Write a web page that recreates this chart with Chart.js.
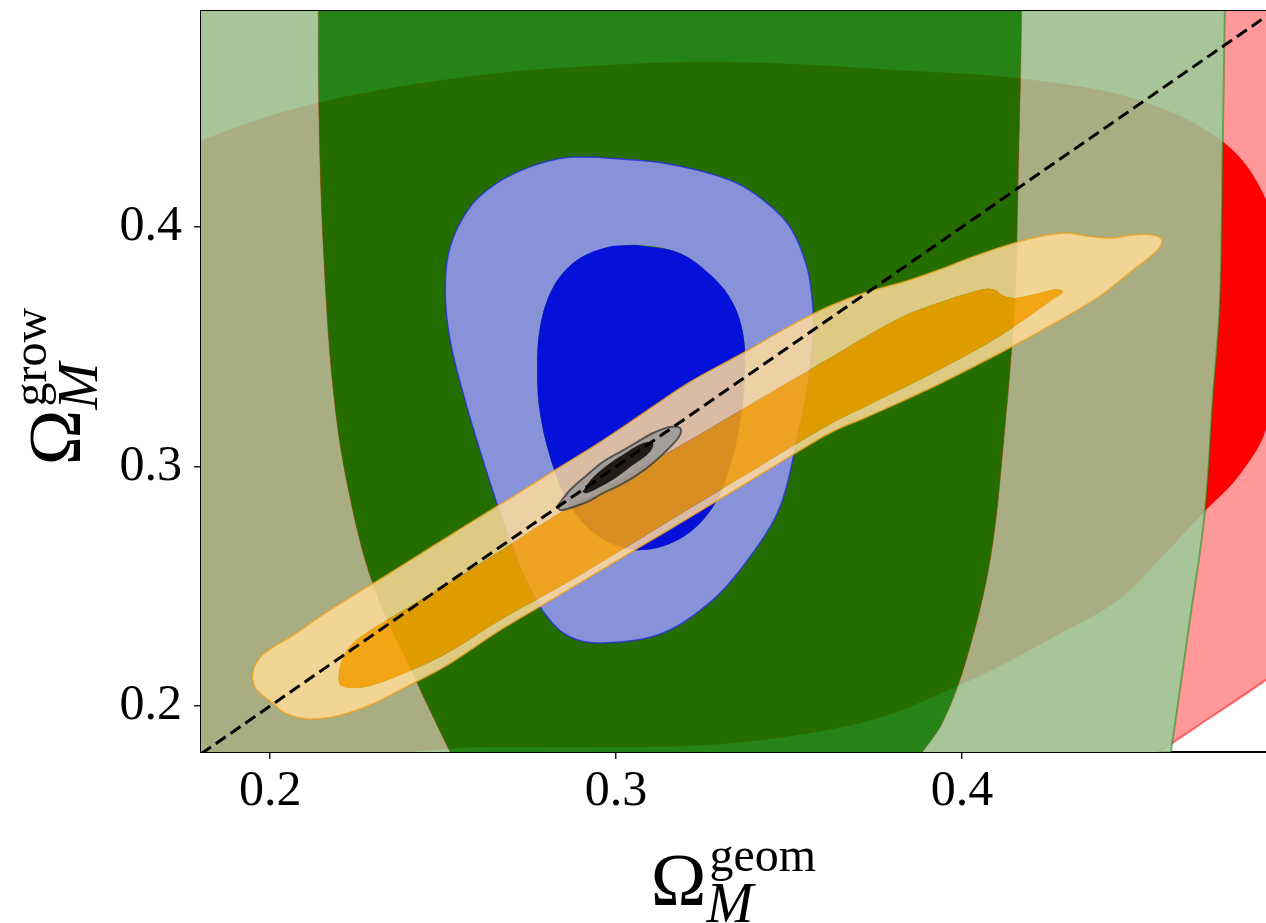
<!DOCTYPE html>
<html>
<head>
<meta charset="utf-8">
<title>Omega_M geom vs grow</title>
<script src="https://cdn.jsdelivr.net/npm/chart.js@4.4.1/dist/chart.umd.min.js"></script>
<style>
  html, body { margin: 0; padding: 0; background: #fff; }
  #wrap { position: relative; width: 1266px; height: 923px; }
</style>
</head>
<body>
<div id="wrap"><canvas id="contours"></canvas></div>
<script>
// --- axis ranges and ticks ---
const xRange = [0.18, 0.4879];
const yRange = [0.1808, 0.4902];
const xTicks = [0.2, 0.3, 0.4];
const yTicks = [0.2, 0.3, 0.4];
const identityLine = [0.18, 0.49];

// --- contour outlines, [Ω_geom, Ω_grow] ---
// red: wide region only shows its edge in the lower right corner
const redWideEdge = [[0.440, 0.166], [0.4564, 0.1804], [0.472, 0.1954], [0.4879, 0.2109], [0.500, 0.2235]];
const redWideRest = [[0.56, 0.30], [0.56, 0.56], [0.10, 0.56], [0.10, 0.10], [0.40, 0.10]];
const redCore = [
  [0.157, 0.420], [0.180, 0.436], [0.206, 0.449], [0.235, 0.458], [0.264, 0.464], [0.290, 0.467],
  [0.324, 0.469], [0.353, 0.468], [0.376, 0.466], [0.417, 0.462], [0.451, 0.453], [0.476, 0.435],
  [0.488, 0.411], [0.495, 0.370], [0.488, 0.316], [0.480, 0.296], [0.470, 0.281], [0.457, 0.261],
  [0.445, 0.244], [0.428, 0.230], [0.410, 0.216], [0.395, 0.206], [0.376, 0.195], [0.353, 0.188],
  [0.324, 0.1835], [0.290, 0.1828], [0.252, 0.1822], [0.223, 0.177], [0.180, 0.165], [0.151, 0.148],
  [0.133, 0.244], [0.139, 0.357]
];

// green: vertical bands, edges listed top to bottom
const greenCoreLeft = [
  [0.2139, 0.53], [0.2139, 0.490], [0.2140, 0.452], [0.2153, 0.393], [0.2182, 0.332], [0.2225, 0.291],
  [0.2298, 0.2505], [0.2425, 0.2096], [0.2520, 0.1808], [0.2610, 0.155], [0.2655, 0.14]
];
const greenCoreRight = [
  [0.4175, 0.53], [0.4173, 0.490], [0.4162, 0.4167], [0.4153, 0.3695], [0.4121, 0.3111], [0.4081, 0.2605],
  [0.4014, 0.2200], [0.3945, 0.1933], [0.3873, 0.1783], [0.369, 0.14]
];
const greenWideRight = [
  [0.4763, 0.53], [0.4760, 0.490], [0.4754, 0.435], [0.4746, 0.3695], [0.4725, 0.3278], [0.4702, 0.2806],
  [0.4659, 0.2359], [0.4604, 0.1804], [0.4564, 0.14]
];
const greenFarLeft = [[0.10, 0.53], [0.10, 0.14]];

// blue
const blueWide = [
  [0.2934, 0.4292], [0.3136, 0.4267], [0.3329, 0.4196], [0.3425, 0.4113], [0.3503, 0.4000], [0.3552, 0.3833],
  [0.3569, 0.3666], [0.3569, 0.3528], [0.3552, 0.3319], [0.3523, 0.3111], [0.3474, 0.2831], [0.3387, 0.2622],
  [0.3280, 0.2443], [0.3136, 0.2305], [0.2962, 0.2263], [0.2867, 0.2288], [0.2801, 0.2372], [0.2743, 0.2514],
  [0.2685, 0.2722], [0.2627, 0.2973], [0.2569, 0.3248], [0.2520, 0.3528], [0.2506, 0.3737], [0.2520, 0.3916],
  [0.2578, 0.4084], [0.2656, 0.4184], [0.2751, 0.4251], [0.2847, 0.4288]
];
const blueCore = [
  [0.3061, 0.3925], [0.3185, 0.3891], [0.3280, 0.3791], [0.3338, 0.3683], [0.3367, 0.3557], [0.3373, 0.3390],
  [0.3358, 0.3182], [0.3329, 0.2998], [0.3280, 0.2831], [0.3194, 0.2706], [0.3078, 0.2651], [0.2983, 0.2681],
  [0.2916, 0.2747], [0.2858, 0.2860], [0.2809, 0.3040], [0.2780, 0.3223], [0.2772, 0.3390], [0.2780, 0.3582],
  [0.2818, 0.3749], [0.2887, 0.3862], [0.2974, 0.3916]
];

// orange
const orangeWide = [
  [0.1948, 0.2117], [0.1954, 0.2163], [0.1977, 0.2213], [0.2014, 0.2251], [0.2058, 0.2288], [0.2173, 0.2401],
  [0.2318, 0.2530], [0.2462, 0.2660], [0.2592, 0.2777], [0.2723, 0.2894], [0.2838, 0.2998], [0.2954, 0.3102],
  [0.3084, 0.3228], [0.3214, 0.3353], [0.3367, 0.3474], [0.3503, 0.3587], [0.3618, 0.3670], [0.3725, 0.3729],
  [0.3821, 0.3766], [0.3916, 0.3812], [0.4061, 0.3891], [0.4205, 0.3954], [0.4303, 0.3975], [0.4364, 0.3962],
  [0.4428, 0.3954], [0.4494, 0.3967], [0.4552, 0.3967], [0.4578, 0.3946],
  [0.4566, 0.3904], [0.4494, 0.3820], [0.4399, 0.3712], [0.4254, 0.3587], [0.4110, 0.3474], [0.3916, 0.3332],
  [0.3725, 0.3207], [0.3618, 0.3140], [0.3425, 0.2973], [0.3234, 0.2806], [0.3040, 0.2639], [0.2847, 0.2472],
  [0.2665, 0.2317], [0.2512, 0.2171], [0.2376, 0.2067], [0.2289, 0.2004], [0.2194, 0.1958], [0.2107, 0.1946],
  [0.2043, 0.1971], [0.2006, 0.2013], [0.1977, 0.2046], [0.1957, 0.2075]
];
const orangeCore = [
  [0.2197, 0.2117], [0.2205, 0.2184], [0.2231, 0.2251], [0.2289, 0.2317], [0.2376, 0.2392], [0.2512, 0.2509],
  [0.2665, 0.2647], [0.2818, 0.2789], [0.3040, 0.2969], [0.3234, 0.3127], [0.3425, 0.3290], [0.3618, 0.3453],
  [0.3821, 0.3620], [0.3965, 0.3699], [0.4067, 0.3741], [0.4095, 0.3737], [0.4121, 0.3712], [0.4153, 0.3704],
  [0.4211, 0.3720], [0.4277, 0.3741], [0.4292, 0.3729],
  [0.4260, 0.3695], [0.4110, 0.3545], [0.3916, 0.3390], [0.3725, 0.3253], [0.3618, 0.3177], [0.3425, 0.3010],
  [0.3234, 0.2843], [0.3040, 0.2672], [0.2847, 0.2505], [0.2665, 0.2359], [0.2512, 0.2221], [0.2376, 0.2129],
  [0.2289, 0.2084], [0.2231, 0.2075], [0.2202, 0.2088]
];

// black (combined)
const blackWide = [
  [0.2832, 0.2839], [0.2867, 0.2902], [0.2916, 0.2965], [0.2962, 0.3019], [0.3012, 0.3061], [0.3061, 0.3102],
  [0.3107, 0.3140], [0.3156, 0.3165], [0.3185, 0.3161], [0.3185, 0.3132], [0.3156, 0.3081], [0.3107, 0.3015],
  [0.3061, 0.2965], [0.3012, 0.2923], [0.2962, 0.2889], [0.2916, 0.2852], [0.2867, 0.2827], [0.2838, 0.2818]
];
const blackCore = [
  [0.2902, 0.2894], [0.2934, 0.2956], [0.2983, 0.3015], [0.3032, 0.3061], [0.3078, 0.3098], [0.3107, 0.3098],
  [0.3098, 0.3061], [0.3049, 0.3006], [0.3003, 0.2956], [0.2954, 0.2914], [0.2916, 0.2889]
];

const toXY = ([x, y]) => ({x, y});

// Open path walking a ring (and optional hole, reversed) once. Doubled vertices keep
// the joins straight, and the far points on the start row keep the filler's x-clip wide.
function shapePath(outer, hole) {
  const ring = pts => [pts[0], pts[0], ...pts.slice(1), pts[0], pts[0]];
  const a = outer[0];
  let path = ring(outer);
  if (hole) path = path.concat(ring(hole.slice().reverse()), [a, a]);
  return [[5, a[1]], ...path, [-5, a[1]]].map(toXY);
}

function area(outer, hole, color) {
  return {
    data: shapePath(outer, hole), showLine: true, fill: 'shape',
    backgroundColor: color, borderColor: 'transparent', borderWidth: 0,
    pointRadius: 0, tension: 0.35
  };
}

function edge(pts, color, width, closed) {
  return {
    data: (closed ? [...pts, pts[0]] : pts).map(toXY), showLine: true, fill: false,
    borderColor: color, borderWidth: width, pointRadius: 0, tension: 0.35
  };
}

const lightGreen = 'rgba(153,204,153,0.85)';

// paint order, bottom first
const layers = [
  area([...redWideEdge, ...redWideRest], null, '#ff9999'),
  edge(redWideEdge, 'rgba(255,0,0,0.5)', 2),
  area(redCore, null, '#ff0000'),
  area([greenFarLeft[0], ...greenCoreLeft, greenFarLeft[1]], null, lightGreen),
  area([...greenCoreRight, ...greenWideRight.slice().reverse()], null, lightGreen),
  area([...greenCoreLeft, ...greenCoreRight.slice().reverse()], null, 'rgba(0,128,0,0.85)'),
  edge(greenCoreLeft, 'rgba(140,90,30,0.4)', 1),
  edge(greenCoreRight, 'rgba(140,90,30,0.4)', 1),
  edge(greenWideRight, 'rgba(0,128,0,0.45)', 2),
  area(blueWide, blueCore, 'rgba(153,153,255,0.85)'),
  area(blueCore, null, 'rgba(0,0,255,0.85)'),
  edge(blueWide, 'rgba(30,40,220,0.75)', 1.5, true),
  area(orangeWide, orangeCore, 'rgba(255,219,153,0.85)'),
  area(orangeCore, null, 'rgba(255,165,0,0.85)'),
  edge(orangeWide, 'rgba(240,160,20,0.75)', 1.5, true),
  area(blackWide, blackCore, 'rgba(153,153,153,0.85)'),
  area(blackCore, null, 'rgba(0,0,0,0.85)'),
  edge(blackWide, 'rgba(60,60,60,0.8)', 2, true),
  {
    data: identityLine.map(v => ({x: v, y: v})), showLine: true, fill: false,
    borderColor: '#000', borderWidth: 3, borderDash: [12, 6], pointRadius: 0, tension: 0
  }
];
layers.forEach((ds, i) => {
  ds.order = layers.length - i;
  ds.xAxisID = 'x';
  ds.yAxisID = 'y';
});

// Ω with upright superscript and italic M subscript, baseline at y = 0, centred on x = 0
function drawOmega(ctx, sup) {
  const big = '75px "Liberation Serif"';
  const small = '48px "Liberation Serif"';
  const sub = 'italic 56px "Liberation Serif"';
  ctx.font = big;
  const wo = ctx.measureText('Ω').width;
  ctx.font = small;
  const ws = ctx.measureText(sup).width;
  const x0 = -(wo + 3 + ws) / 2;
  ctx.font = big;
  ctx.fillText('Ω', x0, 0);
  ctx.font = small;
  ctx.fillText(sup, x0 + wo + 3, -34);
  ctx.font = sub;
  ctx.fillText('M', x0 + wo, 17);
}

const mathTitles = {
  id: 'mathTitles',
  afterDraw(chart) {
    const {ctx, chartArea: a} = chart;
    ctx.save();
    ctx.fillStyle = '#000';
    ctx.textBaseline = 'alphabetic';
    ctx.translate((a.left + a.right) / 2, a.bottom + 153);
    drawOmega(ctx, 'geom');
    ctx.restore();

    ctx.save();
    ctx.fillStyle = '#000';
    ctx.textBaseline = 'alphabetic';
    ctx.translate(a.left - 121, (a.top + a.bottom) / 2 + 5);
    ctx.rotate(-Math.PI / 2);
    drawOmega(ctx, 'grow');
    ctx.restore();
  }
};

const tickFont = {family: '"Liberation Serif", "Times New Roman", serif', size: 50};
const tickGrid = {drawOnChartArea: false, tickLength: 7, lineWidth: 1.5, color: '#222'};
const spine = {color: '#000', width: 2};

new Chart(document.getElementById('contours'), {
  type: 'scatter',
  data: {datasets: layers},
  options: {
    responsive: true,
    maintainAspectRatio: false,
    animation: false,
    events: [],
    layout: {padding: 0},
    elements: {line: {capBezierPoints: false}, point: {radius: 0}},
    plugins: {legend: {display: false}, tooltip: {enabled: false}},
    scales: {
      x: {
        type: 'linear', position: 'bottom', min: xRange[0], max: xRange[1],
        afterBuildTicks: s => { s.ticks = xTicks.map(v => ({value: v})); },
        afterFit: s => { s.height = 171; s.paddingLeft = 0; s.paddingRight = 0; },
        ticks: {font: tickFont, color: '#000', padding: 3, maxRotation: 0, autoSkip: false,
                callback: v => v.toFixed(1)},
        grid: tickGrid,
        border: spine
      },
      xTop: {
        type: 'linear', position: 'top', min: xRange[0], max: xRange[1],
        afterFit: s => { s.height = 11; s.paddingLeft = 0; s.paddingRight = 0; },
        ticks: {display: false},
        grid: {drawOnChartArea: false, drawTicks: false},
        border: spine
      },
      y: {
        type: 'linear', position: 'left', min: yRange[0], max: yRange[1],
        afterBuildTicks: s => { s.ticks = yTicks.map(v => ({value: v})); },
        afterFit: s => { s.width = 201; s.paddingTop = 0; s.paddingBottom = 0; },
        ticks: {font: tickFont, color: '#000', padding: 12, autoSkip: false,
                callback: v => v.toFixed(1)},
        grid: tickGrid,
        border: spine
      }
    }
  },
  plugins: [mathTitles]
});
</script>
</body>
</html>
